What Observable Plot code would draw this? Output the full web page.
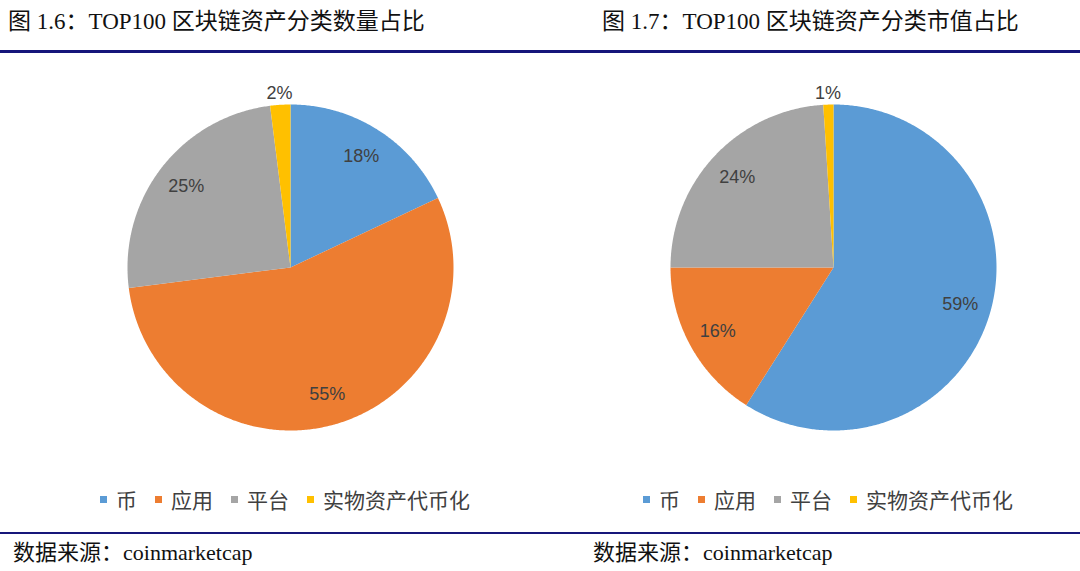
<!DOCTYPE html>
<html><head><meta charset="utf-8">
<script src="https://cdn.jsdelivr.net/npm/d3@7"></script>
<script src="https://cdn.jsdelivr.net/npm/@observablehq/plot@0.6"></script>
<style>
body{margin:0;width:1080px;height:571px;position:relative;background:#fff;overflow:hidden}
.title{position:absolute;top:7px;font-family:"Liberation Serif","Noto Sans CJK SC",serif;font-size:23px;color:#111;white-space:nowrap;line-height:30px}
.rule{position:absolute;left:0;width:1080px;background:#16167a}
.chart{position:absolute;top:55px;width:540px;height:420px}
.legend{position:absolute;top:485px;display:flex;align-items:center;font-family:"Noto Sans CJK SC",sans-serif;font-size:21px;color:#404040;line-height:28px}
.legend .item{display:flex;align-items:center;margin-right:18px}
.legend .sw{width:7px;height:7px;margin-right:9px}
.foot{position:absolute;top:538px;font-family:"Liberation Serif","Noto Sans CJK SC",serif;font-size:22px;color:#111;white-space:nowrap;line-height:30px}
</style></head>
<body>
<div class="title" id="t1" style="left:8px"></div>
<div class="title" id="t2" style="left:602px"></div>
<div class="rule" style="top:50px;height:3px"></div>
<div class="chart" id="c1" style="left:0"></div>
<div class="chart" id="c2" style="left:540px"></div>
<div class="legend" id="l1" style="left:100px"></div>
<div class="legend" id="l2" style="left:643px"></div>
<div class="rule" style="top:532px;height:2px"></div>
<div class="foot" id="f1" style="left:13px"></div>
<div class="foot" id="f2" style="left:593px"></div>
<script>
const categories = ["币", "应用", "平台", "实物资产代币化"];
const countShare = [18, 55, 25, 2];
const marketCapShare = [59, 16, 24, 1];
const colors = ["#5B9BD5", "#ED7D31", "#A5A5A5", "#FFC000"];
const titles = ["图 1.6：TOP100 区块链资产分类数量占比", "图 1.7：TOP100 区块链资产分类市值占比"];
const source = "数据来源：coinmarketcap";

document.getElementById("t1").textContent = titles[0];
document.getElementById("t2").textContent = titles[1];
document.getElementById("f1").textContent = source;
document.getElementById("f2").textContent = source;

function pie(values, cx, cy, R) {
  const total = d3.sum(values);
  const pts = [];
  const labels = [];
  let acc = 0;
  values.forEach((v, i) => {
    const a0 = acc / total * 2 * Math.PI;
    acc += v;
    const a1 = acc / total * 2 * Math.PI;
    pts.push({cat: categories[i], x: 0, y: 0});
    const n = Math.max(2, Math.ceil((a1 - a0) / (Math.PI / 360)));
    for (let k = 0; k <= n; k++) {
      const a = a0 + (a1 - a0) * k / n;
      pts.push({cat: categories[i], x: Math.sin(a), y: Math.cos(a)});
    }
    const am = (a0 + a1) / 2;
    const r = v / total < 0.05 ? 1.07 : 0.81;
    labels.push({x: r * Math.sin(am), y: r * Math.cos(am), text: v + "%"});
  });
  return Plot.plot({
    width: 540, height: 420, margin: 0,
    x: {domain: [-1, 1], range: [cx - R, cx + R], axis: null},
    y: {domain: [-1, 1], range: [cy + R, cy - R], axis: null},
    color: {domain: categories, range: colors},
    style: {background: "transparent"},
    marks: [
      Plot.line(pts, {x: "x", y: "y", z: "cat", fill: "cat", stroke: "none", curve: "linear-closed"}),
      Plot.text(labels, {x: "x", y: "y", text: "text", fontSize: 18, fontWeight: "normal", fill: "#404040",
        fontFamily: "'Liberation Sans Narrow','Liberation Sans',sans-serif"})
    ]
  });
}

document.getElementById("c1").appendChild(pie(countShare, 290, 212, 163));
document.getElementById("c2").appendChild(pie(marketCapShare, 293, 212, 163));

function legend(id) {
  const el = document.getElementById(id);
  categories.forEach((c, i) => {
    const it = document.createElement("div"); it.className = "item";
    const sw = document.createElement("div"); sw.className = "sw"; sw.style.background = colors[i];
    const tx = document.createElement("span"); tx.textContent = c;
    it.appendChild(sw); it.appendChild(tx); el.appendChild(it);
  });
}
legend("l1"); legend("l2");
</script>
</body></html>
